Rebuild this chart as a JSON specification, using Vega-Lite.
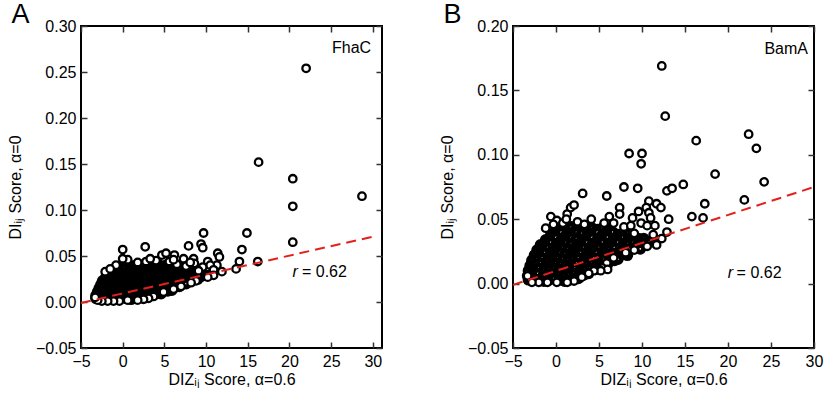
{
  "$schema": "https://vega.github.io/schema/vega-lite/v6.json",
  "padding": {"left": 6, "top": 0, "right": 2, "bottom": 0},
  "background": "white",
  "config": {
    "font": "Liberation Sans",
    "view": {"stroke": "black", "strokeWidth": 2},
    "axis": {
      "labelFontSize": 16, "titleFontSize": 16, "titleFontWeight": "normal",
      "labelColor": "black", "titleColor": "black",
      "tickColor": "#333", "tickSize": -6, "tickWidth": 1.5,
      "domain": false, "grid": false, "labelPadding": 11,
      "labelFlush": false, "labelOverlap": false
    },
    "title": {"fontSize": 27, "fontWeight": "normal", "anchor": "start", "frame": "bounds", "baseline": "alphabetic", "offset": -11, "dx": 4}
  },
  "datasets": {
    "fhacCore": [
      {"x":0,"y":0.040},{"x":0.6,"y":0.041},{"x":1.2,"y":0.039},{"x":1.8,"y":0.041},{"x":2.4,"y":0.040},{"x":3.0,"y":0.042},{"x":3.6,"y":0.040},{"x":4.2,"y":0.041},{"x":4.8,"y":0.039},{"x":5.4,"y":0.041},{"x":6.0,"y":0.040},{"x":6.6,"y":0.039},
      {"x":-1.0,"y":0.035},{"x":-0.4,"y":0.036},{"x":0.2,"y":0.037},{"x":0.8,"y":0.035},{"x":1.4,"y":0.036},{"x":2.0,"y":0.037},{"x":2.6,"y":0.036},{"x":3.2,"y":0.035},{"x":3.8,"y":0.037},{"x":4.4,"y":0.036},{"x":5.0,"y":0.035},{"x":5.6,"y":0.037},{"x":6.2,"y":0.036},{"x":6.8,"y":0.035},{"x":7.4,"y":0.037},{"x":8.0,"y":0.036},{"x":8.6,"y":0.035},
      {"x":-1.5,"y":0.031},{"x":-0.9,"y":0.032},{"x":-0.3,"y":0.033},{"x":0.3,"y":0.031},{"x":0.9,"y":0.032},{"x":1.5,"y":0.033},{"x":2.1,"y":0.032},{"x":2.7,"y":0.031},{"x":3.3,"y":0.032},{"x":3.9,"y":0.033},{"x":4.5,"y":0.031},{"x":5.1,"y":0.032},{"x":5.7,"y":0.033},{"x":6.3,"y":0.031},{"x":6.9,"y":0.032},{"x":7.5,"y":0.033},{"x":8.1,"y":0.031},{"x":8.7,"y":0.032},{"x":9.3,"y":0.031},
      {"x":-2.0,"y":0.027},{"x":-1.4,"y":0.028},{"x":-0.8,"y":0.029},{"x":-0.2,"y":0.027},{"x":0.4,"y":0.028},{"x":1.0,"y":0.029},{"x":1.6,"y":0.028},{"x":2.2,"y":0.027},{"x":2.8,"y":0.028},{"x":3.4,"y":0.029},{"x":4.0,"y":0.027},{"x":4.6,"y":0.028},{"x":5.2,"y":0.029},{"x":5.8,"y":0.027},{"x":6.4,"y":0.028},{"x":7.0,"y":0.029},{"x":7.6,"y":0.027},{"x":8.2,"y":0.028},{"x":8.8,"y":0.027},{"x":9.4,"y":0.028},{"x":10.0,"y":0.029},
      {"x":-2.4,"y":0.023},{"x":-1.8,"y":0.024},{"x":-1.2,"y":0.025},{"x":-0.6,"y":0.023},{"x":0,"y":0.024},{"x":0.6,"y":0.025},{"x":1.2,"y":0.024},{"x":1.8,"y":0.023},{"x":2.4,"y":0.024},{"x":3.0,"y":0.025},{"x":3.6,"y":0.023},{"x":4.2,"y":0.024},{"x":4.8,"y":0.025},{"x":5.4,"y":0.023},{"x":6.0,"y":0.024},{"x":6.6,"y":0.025},{"x":7.2,"y":0.023},{"x":7.8,"y":0.024},{"x":8.4,"y":0.024},{"x":9.0,"y":0.025},
      {"x":-2.6,"y":0.019},{"x":-2.0,"y":0.020},{"x":-1.4,"y":0.021},{"x":-0.8,"y":0.019},{"x":-0.2,"y":0.020},{"x":0.4,"y":0.021},{"x":1.0,"y":0.020},{"x":1.6,"y":0.019},{"x":2.2,"y":0.020},{"x":2.8,"y":0.021},{"x":3.4,"y":0.019},{"x":4.0,"y":0.020},{"x":4.6,"y":0.021},{"x":5.2,"y":0.019},{"x":5.8,"y":0.020},{"x":6.4,"y":0.020},{"x":7.0,"y":0.021},{"x":7.6,"y":0.020},
      {"x":-2.8,"y":0.015},{"x":-2.2,"y":0.016},{"x":-1.6,"y":0.017},{"x":-1.0,"y":0.015},{"x":-0.4,"y":0.016},{"x":0.2,"y":0.017},{"x":0.8,"y":0.016},{"x":1.4,"y":0.015},{"x":2.0,"y":0.016},{"x":2.6,"y":0.017},{"x":3.2,"y":0.015},{"x":3.8,"y":0.016},{"x":4.4,"y":0.017},{"x":5.0,"y":0.015},{"x":5.6,"y":0.016},{"x":6.2,"y":0.016},{"x":6.8,"y":0.017},
      {"x":-3.0,"y":0.011},{"x":-2.4,"y":0.012},{"x":-1.8,"y":0.013},{"x":-1.2,"y":0.011},{"x":-0.6,"y":0.012},{"x":0,"y":0.013},{"x":0.6,"y":0.012},{"x":1.2,"y":0.011},{"x":1.8,"y":0.012},{"x":2.4,"y":0.013},{"x":3.0,"y":0.011},{"x":3.6,"y":0.012},{"x":4.2,"y":0.013},{"x":4.8,"y":0.012},{"x":5.4,"y":0.012},{"x":5.9,"y":0.013},
      {"x":-3.2,"y":0.007},{"x":-2.6,"y":0.008},{"x":-2.0,"y":0.009},{"x":-1.4,"y":0.007},{"x":-0.8,"y":0.008},{"x":-0.2,"y":0.009},{"x":0.4,"y":0.008},{"x":1.0,"y":0.007},{"x":1.6,"y":0.008},{"x":2.2,"y":0.009},{"x":2.8,"y":0.007},{"x":3.4,"y":0.008},{"x":4.0,"y":0.009},{"x":4.6,"y":0.009},
      {"x":-3.2,"y":0.004},{"x":-2.6,"y":0.005},{"x":-2.0,"y":0.004},{"x":-1.4,"y":0.003},{"x":-0.8,"y":0.004},{"x":-0.2,"y":0.005},{"x":0.4,"y":0.004},{"x":1.0,"y":0.003},{"x":1.6,"y":0.004},{"x":2.2,"y":0.005},{"x":2.8,"y":0.005}
    ],
    "fhac": [
      {"x":22.0,"y":0.254},{"x":16.3,"y":0.152},{"x":20.4,"y":0.134},{"x":20.4,"y":0.104},{"x":28.7,"y":0.115},{"x":20.4,"y":0.065},
      {"x":9.7,"y":0.075},{"x":14.9,"y":0.075},{"x":7.9,"y":0.061},{"x":9.4,"y":0.063},{"x":9.6,"y":0.059},{"x":14.3,"y":0.057},
      {"x":11.4,"y":0.053},{"x":11.6,"y":0.049},{"x":0.0,"y":0.057},{"x":2.7,"y":0.060},{"x":16.2,"y":0.044},{"x":13.6,"y":0.036},
      {"x":14.0,"y":0.044},{"x":11.3,"y":0.040},{"x":10.7,"y":0.031},{"x":-2.1,"y":0.033},{"x":4.7,"y":0.051},{"x":5.2,"y":0.053},
      {"x":6.2,"y":0.051},{"x":2.8,"y":0.044},{"x":0.6,"y":0.046},{"x":0.0,"y":0.047},{"x":7.3,"y":0.047},{"x":8.5,"y":0.047},
      {"x":10.2,"y":0.044},{"x":6.5,"y":0.041},{"x":7.6,"y":0.039},{"x":8.6,"y":0.042},{"x":9.6,"y":0.038},{"x":10.5,"y":0.040},
      {"x":9.1,"y":0.034},{"x":11.9,"y":0.033},{"x":5.6,"y":0.044},{"x":4.0,"y":0.045},{"x":3.3,"y":0.047},{"x":6.1,"y":0.046},
      {"x":8.1,"y":0.043},{"x":1.8,"y":0.043},{"x":-0.8,"y":0.040},{"x":-1.5,"y":0.036},
      {"x":10.9,"y":0.035},{"x":10.9,"y":0.029},{"x":10.2,"y":0.027},{"x":8.8,"y":0.023},{"x":8.2,"y":0.021},{"x":7.0,"y":0.017},
      {"x":6.1,"y":0.014},{"x":4.9,"y":0.011},{"x":3.7,"y":0.006},{"x":3.1,"y":0.004},{"x":2.5,"y":0.003},{"x":1.8,"y":0.002},
      {"x":0.6,"y":0.002},{"x":-0.4,"y":0.001},{"x":-1.1,"y":0.001},{"x":-1.8,"y":0.001},{"x":-2.5,"y":0.001},{"x":-3.0,"y":0.002},{"x":-3.3,"y":0.005}
    ],
    "bamaCore": [
      {"x":0,"y":0.043},{"x":0.6,"y":0.044},{"x":1.2,"y":0.042},{"x":1.8,"y":0.044},{"x":2.4,"y":0.043},{"x":3.0,"y":0.042},{"x":3.6,"y":0.044},{"x":4.2,"y":0.043},{"x":4.8,"y":0.042},{"x":5.4,"y":0.043},{"x":6.0,"y":0.042},
      {"x":-0.6,"y":0.038},{"x":0.0,"y":0.039},{"x":0.6,"y":0.040},{"x":1.2,"y":0.038},{"x":1.8,"y":0.039},{"x":2.4,"y":0.040},{"x":3.0,"y":0.039},{"x":3.6,"y":0.038},{"x":4.2,"y":0.039},{"x":4.8,"y":0.040},{"x":5.4,"y":0.038},{"x":6.0,"y":0.039},{"x":6.6,"y":0.040},{"x":7.2,"y":0.038},{"x":7.8,"y":0.039},{"x":8.4,"y":0.039},{"x":9.0,"y":0.038},
      {"x":-1.2,"y":0.034},{"x":-0.6,"y":0.035},{"x":0,"y":0.036},{"x":0.6,"y":0.034},{"x":1.2,"y":0.035},{"x":1.8,"y":0.036},{"x":2.4,"y":0.035},{"x":3.0,"y":0.034},{"x":3.6,"y":0.035},{"x":4.2,"y":0.036},{"x":4.8,"y":0.034},{"x":5.4,"y":0.035},{"x":6.0,"y":0.036},{"x":6.6,"y":0.034},{"x":7.2,"y":0.035},{"x":7.8,"y":0.036},{"x":8.4,"y":0.035},{"x":9.0,"y":0.034},{"x":9.6,"y":0.035},{"x":10.2,"y":0.035},
      {"x":-1.8,"y":0.030},{"x":-1.2,"y":0.031},{"x":-0.6,"y":0.032},{"x":0,"y":0.030},{"x":0.6,"y":0.031},{"x":1.2,"y":0.032},{"x":1.8,"y":0.031},{"x":2.4,"y":0.030},{"x":3.0,"y":0.031},{"x":3.6,"y":0.032},{"x":4.2,"y":0.030},{"x":4.8,"y":0.031},{"x":5.4,"y":0.032},{"x":6.0,"y":0.030},{"x":6.6,"y":0.031},{"x":7.2,"y":0.032},{"x":7.8,"y":0.030},{"x":8.4,"y":0.031},{"x":9.0,"y":0.032},{"x":9.6,"y":0.031},{"x":10.2,"y":0.031},{"x":10.8,"y":0.032},
      {"x":-2.2,"y":0.026},{"x":-1.6,"y":0.027},{"x":-1.0,"y":0.028},{"x":-0.4,"y":0.026},{"x":0.2,"y":0.027},{"x":0.8,"y":0.028},{"x":1.4,"y":0.027},{"x":2.0,"y":0.026},{"x":2.6,"y":0.027},{"x":3.2,"y":0.028},{"x":3.8,"y":0.026},{"x":4.4,"y":0.027},{"x":5.0,"y":0.028},{"x":5.6,"y":0.026},{"x":6.2,"y":0.027},{"x":6.8,"y":0.028},{"x":7.4,"y":0.026},{"x":8.0,"y":0.027},{"x":8.6,"y":0.027},{"x":9.2,"y":0.028},{"x":9.8,"y":0.027},
      {"x":-2.5,"y":0.022},{"x":-1.9,"y":0.023},{"x":-1.3,"y":0.024},{"x":-0.7,"y":0.022},{"x":-0.1,"y":0.023},{"x":0.5,"y":0.024},{"x":1.1,"y":0.023},{"x":1.7,"y":0.022},{"x":2.3,"y":0.023},{"x":2.9,"y":0.024},{"x":3.5,"y":0.022},{"x":4.1,"y":0.023},{"x":4.7,"y":0.024},{"x":5.3,"y":0.022},{"x":5.9,"y":0.023},{"x":6.5,"y":0.023},{"x":7.1,"y":0.022},{"x":7.7,"y":0.023},{"x":8.3,"y":0.022},
      {"x":-2.8,"y":0.018},{"x":-2.2,"y":0.019},{"x":-1.6,"y":0.020},{"x":-1.0,"y":0.018},{"x":-0.4,"y":0.019},{"x":0.2,"y":0.020},{"x":0.8,"y":0.019},{"x":1.4,"y":0.018},{"x":2.0,"y":0.019},{"x":2.6,"y":0.020},{"x":3.2,"y":0.018},{"x":3.8,"y":0.019},{"x":4.4,"y":0.020},{"x":5.0,"y":0.018},{"x":5.6,"y":0.019},{"x":6.2,"y":0.019},{"x":6.8,"y":0.018},{"x":7.2,"y":0.019},
      {"x":-3.0,"y":0.014},{"x":-2.4,"y":0.015},{"x":-1.8,"y":0.016},{"x":-1.2,"y":0.014},{"x":-0.6,"y":0.015},{"x":0,"y":0.016},{"x":0.6,"y":0.015},{"x":1.2,"y":0.014},{"x":1.8,"y":0.015},{"x":2.4,"y":0.016},{"x":3.0,"y":0.014},{"x":3.6,"y":0.015},{"x":4.2,"y":0.016},{"x":4.8,"y":0.015},{"x":5.4,"y":0.014},{"x":6.0,"y":0.015},
      {"x":-3.2,"y":0.010},{"x":-2.6,"y":0.011},{"x":-2.0,"y":0.012},{"x":-1.4,"y":0.010},{"x":-0.8,"y":0.011},{"x":-0.2,"y":0.012},{"x":0.4,"y":0.011},{"x":1.0,"y":0.010},{"x":1.6,"y":0.011},{"x":2.2,"y":0.012},{"x":2.8,"y":0.010},{"x":3.4,"y":0.011},{"x":4.0,"y":0.012},{"x":4.6,"y":0.011},{"x":5.0,"y":0.012},
      {"x":-3.3,"y":0.006},{"x":-2.7,"y":0.007},{"x":-2.1,"y":0.008},{"x":-1.5,"y":0.006},{"x":-0.9,"y":0.007},{"x":-0.3,"y":0.008},{"x":0.3,"y":0.007},{"x":0.9,"y":0.006},{"x":1.5,"y":0.007},{"x":2.1,"y":0.008},{"x":2.7,"y":0.007},{"x":3.3,"y":0.007},{"x":3.8,"y":0.008},
      {"x":-3.2,"y":0.003},{"x":-2.6,"y":0.004},{"x":-2.0,"y":0.003},{"x":-1.4,"y":0.002},{"x":-0.8,"y":0.003},{"x":-0.2,"y":0.004},{"x":0.4,"y":0.003},{"x":1.0,"y":0.002},{"x":1.6,"y":0.003},{"x":2.2,"y":0.004},{"x":2.6,"y":0.004}
    ],
    "bama": [
      {"x":12.3,"y":0.169},{"x":12.7,"y":0.130},{"x":16.3,"y":0.111},{"x":22.4,"y":0.116},{"x":23.3,"y":0.105},{"x":8.5,"y":0.101},
      {"x":10.0,"y":0.101},{"x":9.9,"y":0.093},{"x":18.5,"y":0.085},{"x":24.2,"y":0.079},{"x":14.8,"y":0.077},{"x":7.9,"y":0.075},
      {"x":9.5,"y":0.074},{"x":5.9,"y":0.068},{"x":3.1,"y":0.070},{"x":12.9,"y":0.072},{"x":13.5,"y":0.074},{"x":21.9,"y":0.065},
      {"x":17.3,"y":0.062},{"x":10.8,"y":0.064},{"x":11.7,"y":0.062},{"x":10.5,"y":0.059},{"x":12.2,"y":0.059},{"x":7.4,"y":0.059},
      {"x":7.4,"y":0.054},{"x":15.8,"y":0.052},{"x":17.1,"y":0.051},{"x":13.1,"y":0.050},{"x":-0.6,"y":0.052},{"x":0.1,"y":0.049},
      {"x":1.3,"y":0.054},{"x":1.7,"y":0.059},{"x":2.1,"y":0.061},{"x":4.1,"y":0.050},{"x":5.6,"y":0.047},{"x":6.7,"y":0.047},
      {"x":7.9,"y":0.044},{"x":8.7,"y":0.045},{"x":9.1,"y":0.039},{"x":9.9,"y":0.047},{"x":10.6,"y":0.045},{"x":10.8,"y":0.055},
      {"x":11.0,"y":0.051},{"x":12.9,"y":0.040},{"x":11.6,"y":0.031},{"x":0.8,"y":0.047},{"x":2.5,"y":0.048},{"x":3.3,"y":0.046},
      {"x":-1.2,"y":0.043},{"x":-0.3,"y":0.046},{"x":1.2,"y":0.050},{"x":6.2,"y":0.052},{"x":8.9,"y":0.051},{"x":9.6,"y":0.056},
      {"x":11.5,"y":0.045},{"x":11.3,"y":0.038},{"x":12.3,"y":0.035},
      {"x":11.7,"y":0.030},{"x":10.6,"y":0.029},{"x":9.1,"y":0.026},{"x":8.1,"y":0.024},{"x":6.7,"y":0.020},{"x":5.9,"y":0.016},
      {"x":5.4,"y":0.012},{"x":6.0,"y":0.011},{"x":5.2,"y":0.010},{"x":4.4,"y":0.010},{"x":3.8,"y":0.008},{"x":3.0,"y":0.005},
      {"x":2.1,"y":0.002},{"x":1.3,"y":0.001},{"x":0.1,"y":0.001},{"x":-1.0,"y":0.001},{"x":-2.0,"y":0.001},{"x":-2.8,"y":0.001},{"x":-3.3,"y":0.006}
    ]
  },
  "spacing": 54,
  "hconcat": [
    {
      "width": 301,
      "height": 322,
      "title": {"text": "A"},
      "resolve": {"axis": {"x": "independent", "y": "independent"}},
      "layer": [
        {
          "data": {"name": "fhacCore"},
          "mark": {"type": "circle", "size": 45, "fill": "white", "stroke": "black", "strokeWidth": 5, "opacity": 1},
          "encoding": {
            "x": {"field": "x", "type": "quantitative", "scale": {"domain": [-5, 31.1], "nice": false, "zero": false}, "axis": null},
            "y": {"field": "y", "type": "quantitative", "scale": {"domain": [-0.05, 0.30], "nice": false, "zero": false}, "axis": null}
          }
        },
        {
          "data": {"name": "fhac"},
          "mark": {"type": "circle", "size": 56, "fill": "white", "stroke": "black", "strokeWidth": 2.3, "opacity": 1},
          "encoding": {
            "x": {"field": "x", "type": "quantitative",
                  "axis": {"values": [-5, 0, 5, 10, 15, 20, 25, 30], "title": "DIZᵢⱼ Score, α=0.6", "titlePadding": 2}},
            "y": {"field": "y", "type": "quantitative",
                  "axis": {"values": [-0.05, 0, 0.05, 0.10, 0.15, 0.20, 0.25, 0.30], "format": ".2f", "title": "DIᵢⱼ Score, α=0", "titlePadding": 12}}
          }
        },
        {
          "data": {"values": [{"x": -5, "y": -0.001}, {"x": 30, "y": 0.071}]},
          "mark": {"type": "line", "color": "#e3211c", "strokeWidth": 2, "strokeDash": [10, 6]},
          "encoding": {
            "x": {"field": "x", "type": "quantitative", "axis": {"orient": "top", "labels": false, "title": null, "values": [-5, 0, 5, 10, 15, 20, 25, 30]}},
            "y": {"field": "y", "type": "quantitative", "axis": {"orient": "right", "labels": false, "title": null, "values": [-0.05, 0, 0.05, 0.10, 0.15, 0.20, 0.25, 0.30]}}
          }
        },
        {
          "data": {"values": [{}]},
          "mark": {"type": "text", "text": "FhaC", "align": "right", "baseline": "middle", "fontSize": 16},
          "encoding": {
            "x": {"datum": 29.8, "type": "quantitative", "axis": null},
            "y": {"datum": 0.276, "type": "quantitative", "axis": null}
          }
        },
        {
          "data": {"values": [{}]},
          "mark": {"type": "text", "text": "r", "align": "right", "baseline": "middle", "fontSize": 16, "fontStyle": "italic"},
          "encoding": {
            "x": {"datum": 21.0, "type": "quantitative", "axis": null},
            "y": {"datum": 0.033, "type": "quantitative", "axis": null}
          }
        },
        {
          "data": {"values": [{}]},
          "mark": {"type": "text", "text": "= 0.62", "align": "left", "baseline": "middle", "fontSize": 16},
          "encoding": {
            "x": {"datum": 21.5, "type": "quantitative", "axis": null},
            "y": {"datum": 0.033, "type": "quantitative", "axis": null}
          }
        }
      ]
    },
    {
      "width": 301,
      "height": 322,
      "title": {"text": "B"},
      "resolve": {"axis": {"x": "independent", "y": "independent"}},
      "layer": [
        {
          "data": {"name": "bamaCore"},
          "mark": {"type": "circle", "size": 45, "fill": "white", "stroke": "black", "strokeWidth": 5, "opacity": 1},
          "encoding": {
            "x": {"field": "x", "type": "quantitative", "scale": {"domain": [-5, 30], "nice": false, "zero": false}, "axis": null},
            "y": {"field": "y", "type": "quantitative", "scale": {"domain": [-0.05, 0.20], "nice": false, "zero": false}, "axis": null}
          }
        },
        {
          "data": {"name": "bama"},
          "mark": {"type": "circle", "size": 56, "fill": "white", "stroke": "black", "strokeWidth": 2.3, "opacity": 1},
          "encoding": {
            "x": {"field": "x", "type": "quantitative",
                  "axis": {"values": [-5, 0, 5, 10, 15, 20, 25, 30], "title": "DIZᵢⱼ Score, α=0.6", "titlePadding": 2}},
            "y": {"field": "y", "type": "quantitative",
                  "axis": {"values": [-0.05, 0, 0.05, 0.10, 0.15, 0.20], "format": ".2f", "title": "DIᵢⱼ Score, α=0", "titlePadding": 12}}
          }
        },
        {
          "data": {"values": [{"x": -5, "y": -0.001}, {"x": 30, "y": 0.075}]},
          "mark": {"type": "line", "color": "#e3211c", "strokeWidth": 2, "strokeDash": [10, 6]},
          "encoding": {
            "x": {"field": "x", "type": "quantitative", "axis": {"orient": "top", "labels": false, "title": null, "values": [-5, 0, 5, 10, 15, 20, 25, 30]}},
            "y": {"field": "y", "type": "quantitative", "axis": {"orient": "right", "labels": false, "title": null, "values": [-0.05, 0, 0.05, 0.10, 0.15, 0.20]}}
          }
        },
        {
          "data": {"values": [{}]},
          "mark": {"type": "text", "text": "BamA", "align": "right", "baseline": "middle", "fontSize": 16},
          "encoding": {
            "x": {"datum": 29.3, "type": "quantitative", "axis": null},
            "y": {"datum": 0.182, "type": "quantitative", "axis": null}
          }
        },
        {
          "data": {"values": [{}]},
          "mark": {"type": "text", "text": "r", "align": "right", "baseline": "middle", "fontSize": 16, "fontStyle": "italic"},
          "encoding": {
            "x": {"datum": 20.6, "type": "quantitative", "axis": null},
            "y": {"datum": 0.0085, "type": "quantitative", "axis": null}
          }
        },
        {
          "data": {"values": [{}]},
          "mark": {"type": "text", "text": "= 0.62", "align": "left", "baseline": "middle", "fontSize": 16},
          "encoding": {
            "x": {"datum": 21.0, "type": "quantitative", "axis": null},
            "y": {"datum": 0.0085, "type": "quantitative", "axis": null}
          }
        }
      ]
    }
  ]
}
